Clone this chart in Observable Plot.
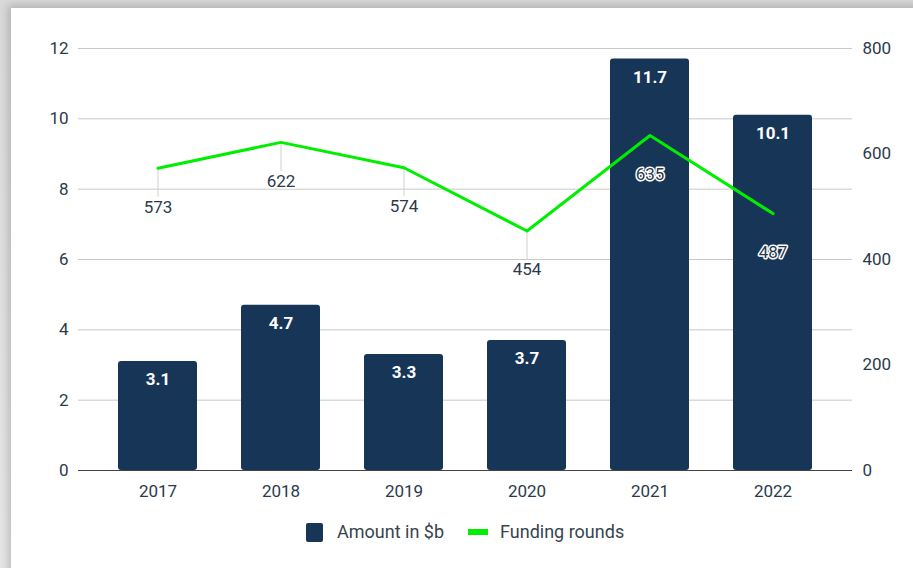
<!DOCTYPE html>
<html>
<head>
<meta charset="utf-8">
<script src="https://cdn.jsdelivr.net/npm/d3@7"></script>
<script src="https://cdn.jsdelivr.net/npm/@observablehq/plot@0.6"></script>
<style>
  html, body { margin: 0; padding: 0; }
  body { width: 913px; height: 568px; position: relative; overflow: hidden;
         background: linear-gradient(#d9d9d9, #e6e6e6); font-family: Roboto, sans-serif; }
  #card { position: absolute; left: 11px; top: 8px; width: 920px; height: 580px; background: #fff;
          box-shadow: -3px -3px 8px rgba(0,0,0,0.18); }
  #chart { position: absolute; left: 0; top: 0; }
  #legend { position: absolute; left: 306px; top: 521px; display: flex;
            font-size: 18px; color: #37444f; align-items: center; line-height: 22px; }
  .item { display: flex; align-items: center; }
  .sw1 { width: 17px; height: 19px; background: #173557; border-radius: 2px; margin-right: 14px; }
  .sw2 { width: 20px; height: 6px; background: #00ee00; margin-right: 12px; margin-left: 24px; }
</style>
</head>
<body>
<div id="card"></div>
<div id="chart"></div>
<div id="legend">
  <div class="item"><div class="sw1"></div>Amount in $b</div>
  <div class="item"><div class="sw2"></div>Funding rounds</div>
</div>
<script>
const years = ["2017", "2018", "2019", "2020", "2021", "2022"];
const amounts = [3.1, 4.7, 3.3, 3.7, 11.7, 10.1];
const rounds = [573, 622, 574, 454, 635, 487];
const leftTicks = [0, 2, 4, 6, 8, 10, 12];
const rightTicks = [0, 200, 400, 600, 800];

const rightMax = 800, leftMax = 12;
const toLeft = v => v * leftMax / rightMax;
const data = years.map((y, i) => ({year: y, amount: amounts[i], rounds: rounds[i], r: toLeft(rounds[i])}));

const ink = "#2b3a4c";
const fs = 17;
const chart = Plot.plot({
  width: 913,
  height: 510,
  marginLeft: 78,
  marginRight: 61,
  marginTop: 48,
  marginBottom: 40,
  style: {fontFamily: "Roboto, sans-serif", fontSize: "17px", color: ink, background: "transparent"},
  x: {domain: years, paddingInner: 0.36, paddingOuter: 0.325, label: null},
  y: {domain: [0, leftMax], label: null},
  marks: [
    Plot.gridY(leftTicks, {stroke: "#c8c8c8", strokeOpacity: 1, strokeWidth: 1}),
    Plot.axisY(leftTicks, {anchor: "left", tickSize: 0, tickPadding: 10, label: null, fontSize: fs, fill: ink}),
    Plot.axisY(rightTicks.map(toLeft), {anchor: "right", tickSize: 0, tickPadding: 10, label: null,
      tickFormat: d => String(Math.round(d * rightMax / leftMax)), fontSize: fs, fill: ink}),
    Plot.axisX({tickSize: 0, tickPadding: 14, label: null, fontSize: fs, fill: ink}),
    Plot.ruleX(data, {x: "year", y1: "r", y2: "r", insetBottom: -29, stroke: "#d0d0d0", strokeWidth: 1}),
    Plot.barY(data, {x: "year", y: "amount", fill: "#173557", rx: 3}),
    Plot.ruleY([0], {stroke: "#444", strokeWidth: 1.2}),
    Plot.text(data, {x: "year", y: "amount", text: d => d.amount.toFixed(1), dy: 18, fill: "#fff",
      fontWeight: "bold", fontSize: fs}),
    Plot.line(data, {x: "year", y: "r", stroke: "#00ee00", strokeWidth: 3}),
    Plot.text(data, {x: "year", y: "r", text: d => String(d.rounds), dy: 39, fill: ink,
      stroke: "#fff", strokeWidth: 3, fontSize: fs})
  ]
});
document.getElementById("chart").appendChild(chart);
</script>
</body>
</html>
